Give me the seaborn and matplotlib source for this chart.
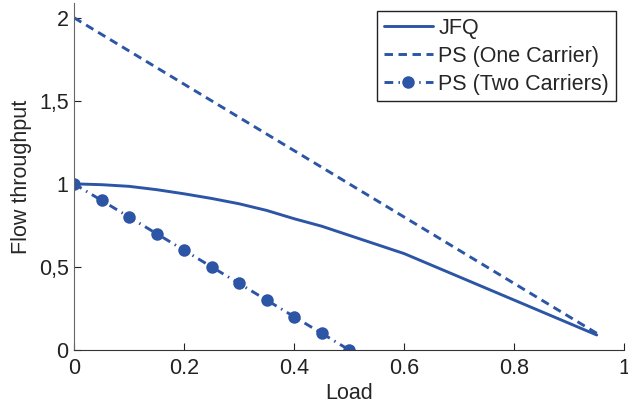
import matplotlib
matplotlib.use("Agg")
import matplotlib.pyplot as plt
import seaborn as sns
import numpy as np
import pandas as pd

# Data
jfq_load = [0.0, 0.05, 0.1, 0.15, 0.2, 0.25, 0.3, 0.35, 0.4, 0.45, 0.5,
            0.55, 0.6, 0.65, 0.7, 0.75, 0.8, 0.85, 0.9, 0.95]
jfq_tput = [1.0, 0.995, 0.985, 0.965, 0.94, 0.912, 0.88, 0.84, 0.79, 0.745, 0.69,
            0.635, 0.58, 0.51, 0.44, 0.37, 0.30, 0.23, 0.16, 0.09]
ps1_load = [0.0, 0.95]
ps1_tput = [2.0, 0.1]
ps2_load = [0.0, 0.05, 0.1, 0.15, 0.2, 0.25, 0.3, 0.35, 0.4, 0.45, 0.5]
ps2_tput = [1.0, 0.9, 0.8, 0.7, 0.6, 0.5, 0.4, 0.3, 0.2, 0.1, 0.0]

xticks = [0, 0.2, 0.4, 0.6, 0.8, 1]
xticklabels = ["0", "0.2", "0.4", "0.6", "0.8", "1"]
yticks = [0, 0.5, 1, 1.5, 2]
yticklabels = ["0", "0,5", "1", "1,5", "2"]

sns.set_style("ticks")
plt.rcParams['font.family'] = ['Liberation Sans', 'DejaVu Sans']

FS = 15.5
color = "#2D55A6"
fig = plt.figure(figsize=(6.28, 4.05), dpi=100)
ax = fig.add_axes([0.118, 0.136, 0.876, 0.857])

sns.lineplot(x=jfq_load, y=jfq_tput, ax=ax, color=color, linewidth=2.1, label="JFQ")
sns.lineplot(x=ps1_load, y=ps1_tput, ax=ax, color=color, linewidth=2.1,
             label="PS (One Carrier)")
ax.lines[-1].set_dashes((2.9, 1.9))
sns.lineplot(x=ps2_load, y=ps2_tput, ax=ax, color=color, linewidth=2.1,
             marker="o", markersize=9, markeredgewidth=0, label="PS (Two Carriers)")
ax.lines[-1].set_dashes((3.0, 1.8, 0.5, 1.8))

ax.set_xlim(0, 1)
ax.set_ylim(0, 2.09)
ax.set_xticks(xticks)
ax.set_xticklabels(xticklabels)
ax.set_yticks(yticks)
ax.set_yticklabels(yticklabels)
ax.tick_params(direction="in", length=5, labelsize=FS, colors="#222222", width=0.8)
ax.tick_params(axis="x", pad=6)
ax.tick_params(axis="y", pad=4)
for s in ["top", "right"]:
    ax.spines[s].set_visible(False)
ax.spines["left"].set_color("#666666")
ax.spines["bottom"].set_color("#333333")
ax.set_xlabel("Load", fontsize=FS, labelpad=3)
ax.set_ylabel("Flow throughput", fontsize=FS, labelpad=5)

leg = ax.legend(loc="upper right", fontsize=FS, frameon=True, fancybox=False,
                edgecolor="#222222", framealpha=1, handlelength=2.3,
                handletextpad=0.25, labelspacing=0.32, borderpad=0.3,
                borderaxespad=0.4)
leg.get_frame().set_linewidth(1.0)

fig.savefig("out.png", dpi=100)
